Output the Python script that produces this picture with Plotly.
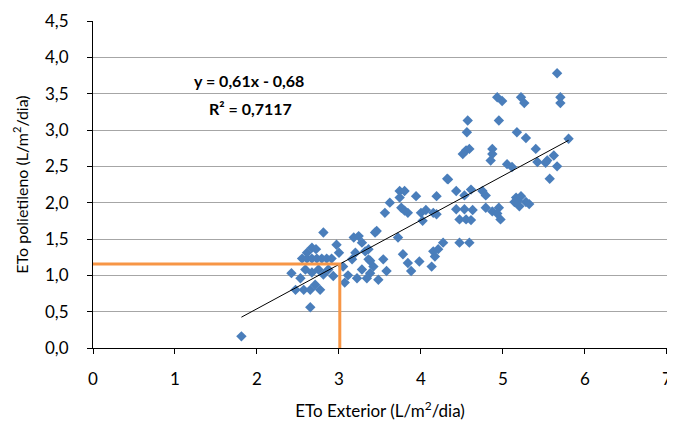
import plotly.graph_objects as go

# ETo Exterior (x) vs ETo polietileno (y), L/m2/dia
eto_exterior = [
    1.81,
    2.42, 2.53, 2.47, 2.57, 2.65, 2.77, 2.71, 2.65,
    2.59, 2.67, 2.75, 2.81, 2.87, 2.93,
    2.55, 2.61, 2.67, 2.73, 2.79, 2.85, 2.91,
    2.61, 2.67, 2.72, 2.81, 2.97, 3.00,
    3.07, 3.11, 3.05, 3.16, 3.20, 3.18, 3.24, 3.28, 3.32, 3.36, 3.38, 3.28, 3.22, 3.44,
    3.46, 3.36, 3.54, 3.78, 3.84, 3.98, 3.88, 3.58, 3.48, 3.34, 3.42, 3.38,
    4.13, 4.15, 4.21, 4.27, 4.17, 4.47, 4.59,
    3.72,
    3.62, 3.56, 3.74, 3.80, 3.74, 3.94, 4.19, 3.76, 3.84, 4.00, 4.06, 4.02, 4.19, 4.15, 3.80,
    4.32, 4.43, 4.53, 4.61, 4.75, 4.79,
    4.43, 4.47, 4.53, 4.55, 4.63, 4.61, 4.79, 4.87, 4.95, 4.97, 4.93,
    5.16, 5.22, 5.28, 5.14, 5.20, 5.18, 5.32,
    4.55, 4.51, 4.59, 4.57, 4.56,
    4.87, 4.87, 4.85, 4.95, 4.93, 4.99, 5.05, 5.11,
    5.22, 5.26, 5.17, 5.28,
    5.40, 5.42, 5.54, 5.62, 5.66, 5.57, 5.52,
    5.66, 5.70, 5.70, 5.80,
    4.33,
]
eto_polietileno = [
    0.16,
    1.03, 0.96, 0.80, 0.80, 0.80, 0.80, 0.87, 0.56,
    1.08, 1.04, 1.08, 1.01, 1.08, 0.99,
    1.23, 1.23, 1.23, 1.23, 1.23, 1.23, 1.23,
    1.31, 1.38, 1.36, 1.59, 1.42, 1.31,
    0.90, 1.00, 1.12, 1.22, 1.31, 1.52, 1.54, 1.45, 1.33, 1.22, 1.03, 1.08, 0.96, 1.59,
    1.61, 1.36, 1.22, 1.29, 1.17, 1.19, 1.06, 1.06, 0.94, 0.96, 1.12, 1.20,
    1.12, 1.33, 1.36, 1.45, 1.26, 1.45, 1.45,
    1.52,
    2.00, 1.86, 2.16, 2.16, 2.07, 2.09, 2.09, 1.93, 1.86, 1.86, 1.90, 1.75, 1.84, 1.86, 1.89,
    2.33, 2.16, 2.10, 2.18, 2.16, 2.10,
    1.91, 1.77, 1.91, 1.77, 1.90, 1.76, 1.93, 1.88, 1.93, 1.77, 1.85,
    2.07, 2.09, 2.01, 2.01, 1.95, 2.03, 1.98,
    2.72, 2.67, 2.74, 3.13, 2.97,
    2.74, 2.67, 2.58, 3.13, 3.45, 3.40, 2.53, 2.49,
    3.45, 3.37, 2.97, 2.89,
    2.74, 2.56, 2.58, 2.65, 2.50, 2.33, 2.55,
    3.78, 3.45, 3.37, 2.88,
    2.32,
]

# Linear trend reported on the chart
slope = 0.61
intercept = -0.68
equation_text = "y = 0,61x - 0,68"
r2_text = "R² = 0,7117"

# Reference point marked with orange lines
x_ref = 3.01

x_ticks = [0, 1, 2, 3, 4, 5, 6, 7]
y_ticks = [0.0, 0.5, 1.0, 1.5, 2.0, 2.5, 3.0, 3.5, 4.0, 4.5]

y_ref = slope * x_ref + intercept
x_min = min(eto_exterior)
x_max = max(eto_exterior)

font_family = "Lato, 'Open Sans', sans-serif"

fig = go.Figure()

fig.add_trace(go.Scatter(
    x=eto_exterior, y=eto_polietileno, mode="markers",
    marker=dict(symbol="diamond", size=8, color="#4a7ebb", line=dict(width=0)),
    hoverinfo="x+y", showlegend=False,
))

fig.add_trace(go.Scatter(
    x=[x_min, x_max], y=[slope * x_min + intercept, slope * x_max + intercept],
    mode="lines", line=dict(color="black", width=1), showlegend=False,
))

fig.add_trace(go.Scatter(
    x=[0, x_ref, x_ref], y=[y_ref, y_ref, 0],
    mode="lines", line=dict(color="#f79646", width=3), showlegend=False,
))

fig.add_annotation(
    x=1.905, y=3.68, xref="x", yref="y", text="<b>" + equation_text + "</b>",
    showarrow=False, font=dict(family=font_family, size=16, color="black"),
)
fig.add_annotation(
    x=1.926, y=3.30, xref="x", yref="y", text="<b>" + r2_text + "</b>",
    showarrow=False, font=dict(family=font_family, size=16, color="black"),
)

# the page body adds an 8 px offset, so the figure is sized to fit the window
fig.update_layout(
    width=667, height=415,
    margin=dict(l=85, r=8, t=13, b=75),
    paper_bgcolor="white", plot_bgcolor="white",
    separators=", ",
    font=dict(family=font_family, size=17, color="black"),
    xaxis=dict(
        range=[0, 7.0005], tickvals=x_ticks, ticktext=[str(v) for v in x_ticks],
        automargin=False, ticklabeloverflow="allow",
        showgrid=False, zeroline=False, showline=True, linecolor="black", linewidth=1,
        ticks="outside", ticklen=5, tickcolor="black", ticklabelstandoff=11,
        tickfont=dict(family=font_family, size=17, color="black"),
        title=dict(text="ETo Exterior (L/m<sup>2</sup>/dia)", standoff=16,
                   font=dict(family=font_family, size=17, color="black")),
    ),
    yaxis=dict(
        range=[0, 4.5], tickvals=y_ticks, tickformat=".1f",
        automargin=False,
        showgrid=True, gridcolor="#a6a6a6", gridwidth=1,
        zeroline=False, showline=True, linecolor="black", linewidth=1,
        ticks="outside", ticklen=5, tickcolor="black", ticklabelstandoff=15,
        tickfont=dict(family=font_family, size=17, color="black"),
        title=dict(text="ETo polietileno (L/m<sup>2</sup>/dia)", standoff=12,
                   font=dict(family=font_family, size=16, color="black")),
    ),
)

fig.write_html("out.html")
